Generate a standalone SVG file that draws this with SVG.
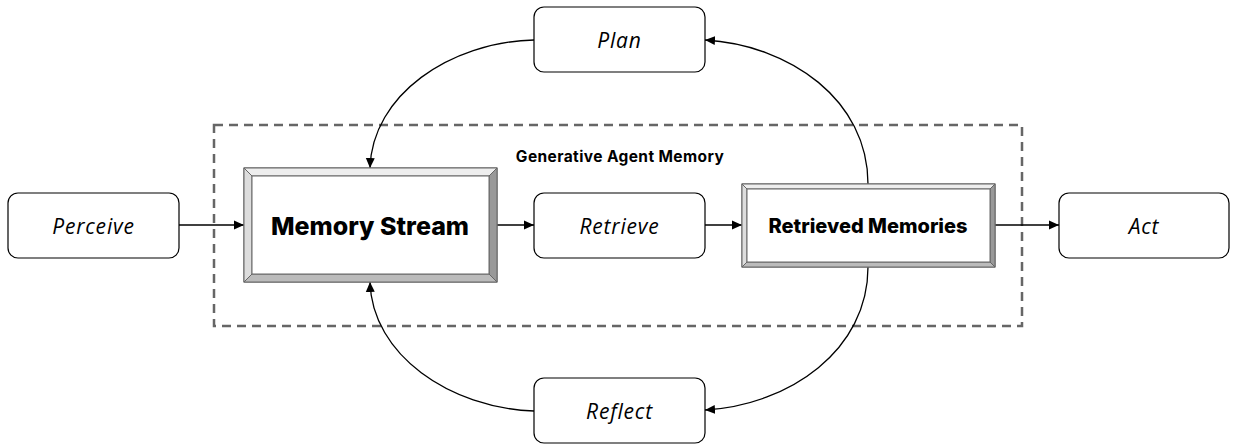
<svg xmlns="http://www.w3.org/2000/svg" width="1236" height="445" viewBox="0 0 1236 445">
<defs>
<style>
.box{fill:#fff;stroke:#000;stroke-width:1.2}
.lbl{font-family:"Open Sans","Liberation Sans",sans-serif;font-style:italic;font-size:21px;letter-spacing:0.8px;fill:#000;text-anchor:middle;dominant-baseline:central}
.big{font-family:Inter,"Liberation Sans",sans-serif;font-weight:800;fill:#000;text-anchor:middle;dominant-baseline:central}
.edge{fill:none;stroke:#000;stroke-width:1.3;marker-end:url(#arr)}
.frame{fill:none;stroke:#666;stroke-width:2.5;stroke-dasharray:9 6}
</style>
<marker id="arr" viewBox="0 0 10 10" refX="10" refY="5" markerWidth="10" markerHeight="10" markerUnits="userSpaceOnUse" orient="auto">
<path d="M0,0.5 L10,5 L0,9.5 z" fill="#000"/>
</marker>
</defs>
<rect width="1236" height="445" fill="#fff"/>
<g id="frame">
<rect class="frame" x="214" y="125" width="808" height="201"/>
<text x="620" y="156" font-family="Inter,'Liberation Sans',sans-serif" font-weight="700" font-size="15.5" letter-spacing="0.4" text-anchor="middle" dominant-baseline="central">Generative Agent Memory</text>
</g>
<g id="connectors">
<path class="edge" d="M179,225 L244,225"/>
<path class="edge" d="M497,225 L534,225"/>
<path class="edge" d="M705,225 L742,225"/>
<path class="edge" d="M995,225 L1059,225"/>
<path class="edge" d="M868,184 C868,100 790,45 705,40"/>
<path class="edge" d="M534,40 C450,42 372,95 370,168"/>
<path class="edge" d="M868,267 C868,350 790,405 705,410"/>
<path class="edge" d="M534,411 C450,408 372,355 370,282"/>
</g>
<g id="perceive">
<rect class="box" x="8" y="193" width="171" height="65" rx="10"/>
<text class="lbl" x="93.5" y="225.5">Perceive</text>
</g>
<g id="plan">
<rect class="box" x="534" y="7" width="171" height="65" rx="10"/>
<text class="lbl" x="619.5" y="39.5">Plan</text>
</g>
<g id="retrieve">
<rect class="box" x="534" y="193" width="171" height="65" rx="10"/>
<text class="lbl" x="619.5" y="225.5">Retrieve</text>
</g>
<g id="reflect">
<rect class="box" x="534" y="378" width="171" height="65" rx="10"/>
<text class="lbl" x="619.5" y="410.5">Reflect</text>
</g>
<g id="act">
<rect class="box" x="1059" y="193" width="170" height="65" rx="10"/>
<text class="lbl" x="1144" y="225.5">Act</text>
</g>
<g id="memory-stream">
<rect x="244" y="168" width="253" height="114" fill="#fff" stroke="#666" stroke-width="1.2"/>
<polygon points="244,168 497,168 489,176 252,176" fill="#eee" stroke="#666" stroke-width="1"/>
<polygon points="244,168 252,176 252,274 244,282" fill="#ddd" stroke="#666" stroke-width="1"/>
<polygon points="497,168 497,282 489,274 489,176" fill="#999" stroke="#666" stroke-width="1"/>
<polygon points="244,282 252,274 489,274 497,282" fill="#bbb" stroke="#666" stroke-width="1"/>
<rect x="252" y="176" width="237" height="98" fill="#fff" stroke="#666" stroke-width="1"/>
<text class="big" x="370" y="226" font-size="25" font-weight="900">Memory Stream</text>
</g>
<g id="retrieved-memories">
<rect x="742" y="184" width="253" height="83" fill="#fff" stroke="#666" stroke-width="1.2"/>
<polygon points="742,184 995,184 990,189 747,189" fill="#eee" stroke="#666" stroke-width="1"/>
<polygon points="742,184 747,189 747,262 742,267" fill="#ddd" stroke="#666" stroke-width="1"/>
<polygon points="995,184 995,267 990,262 990,189" fill="#999" stroke="#666" stroke-width="1"/>
<polygon points="742,267 747,262 990,262 995,267" fill="#bbb" stroke="#666" stroke-width="1"/>
<rect x="747" y="189" width="243" height="73" fill="#fff" stroke="#666" stroke-width="1"/>
<text class="big" x="868" y="226" font-size="20">Retrieved Memories</text>
</g>
</svg>
